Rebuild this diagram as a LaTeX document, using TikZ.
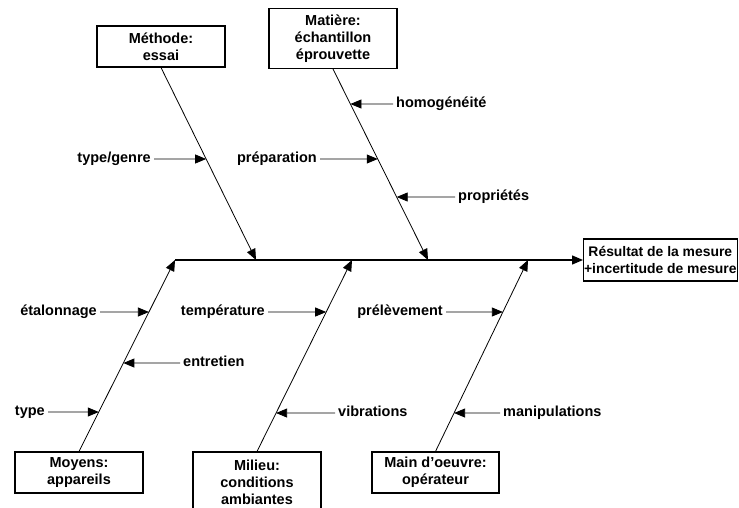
\documentclass[tikz,border=0pt]{standalone}
\usepackage{fontspec}
\setmainfont{Liberation Sans}
\usepackage{tikz}
\usetikzlibrary{arrows.meta,calc}

\begin{document}
\begin{tikzpicture}[
  x=1pt, y=-1pt,
  every node/.style={font=\fontsize{14.5}{17}\selectfont\bfseries},
  box/.style={draw, line width=1.1pt, minimum width=128pt, align=center, inner sep=0pt},
  lbl/.style={inner xsep=3pt, inner ysep=0pt, text height=10pt, text depth=3pt},
  arr/.style={-{Triangle[length=11pt, width=9pt]}, line width=0.8pt},
]
  \useasboundingbox (0,0) rectangle (739,508);
  \clip (0,0) rectangle (739,508);

  % Causes
  \node[box, minimum height=41pt] (methode) at (161,46.5) {Méthode:\\essai};
  \node[box, minimum height=60pt] (matiere) at (333,38.5) {Matière:\\échantillon\\éprouvette};
  \node[box, minimum height=41pt] (moyens) at (79,472.5) {Moyens:\\appareils};
  \node[box, minimum height=60pt] (milieu) at (257,482) {Milieu:\\conditions\\ambiantes};
  \node[box, minimum height=41pt, minimum width=127pt] (main) at (435.5,472.5) {Main d’oeuvre:\\opérateur};

  % Effect
  \node[box, minimum height=42pt, anchor=west, inner xsep=0.5pt,
        font=\fontsize{13.9}{17}\selectfont\bfseries] (res) at (583,260) {Résultat de la mesure\\+incertitude de mesure};

  % Spine
  \coordinate (s0) at (175,260);
  \coordinate (s1) at (256,260);
  \coordinate (s2) at (352,260);
  \coordinate (s3) at (428,260);
  \coordinate (s4) at (528,260);
  \draw[arr, line width=1.4pt] (s0) -- (res.west);

  % Bones
  \draw[arr] (methode.south) -- (s1);
  \draw[arr] (matiere.south) -- (s3);
  \draw[arr] (moyens.north) -- (s0);
  \draw[arr] (milieu.north) -- (s2);
  \draw[arr] (main.north) -- (s4);

  % Sub-causes (top)
  \node[lbl, anchor=east] (genre) at (154,159) {type/genre};
  \draw[arr] (genre) -- (intersection of methode.south--s1 and genre.west--genre.east);
  \node[lbl, anchor=east] (prep) at (320,159) {préparation};
  \draw[arr] (prep) -- (intersection of matiere.south--s3 and prep.west--prep.east);
  \node[lbl, anchor=west] (homog) at (393,104) {homogénéité};
  \draw[arr] (homog) -- (intersection of matiere.south--s3 and homog.west--homog.east);
  \node[lbl, anchor=west] (propr) at (455,197) {propriétés};
  \draw[arr] (propr) -- (intersection of matiere.south--s3 and propr.west--propr.east);

  % Sub-causes (bottom)
  \node[lbl, anchor=east] (etal) at (100,312) {étalonnage};
  \draw[arr] (etal) -- (intersection of moyens.north--s0 and etal.west--etal.east);
  \node[lbl, anchor=west] (entr) at (180,363) {entretien};
  \draw[arr] (entr) -- (intersection of moyens.north--s0 and entr.west--entr.east);
  \node[lbl, anchor=east] (type) at (48,412) {type};
  \draw[arr] (type) -- (intersection of moyens.north--s0 and type.west--type.east);
  \node[lbl, anchor=east] (temp) at (268,312) {température};
  \draw[arr] (temp) -- (intersection of milieu.north--s2 and temp.west--temp.east);
  \node[lbl, anchor=west] (vibr) at (335,413) {vibrations};
  \draw[arr] (vibr) -- (intersection of milieu.north--s2 and vibr.west--vibr.east);
  \node[lbl, anchor=east] (prel) at (446,312) {prélèvement};
  \draw[arr] (prel) -- (intersection of main.north--s4 and prel.west--prel.east);
  \node[lbl, anchor=west] (manip) at (500,413) {manipulations};
  \draw[arr] (manip) -- (intersection of main.north--s4 and manip.west--manip.east);
\end{tikzpicture}
\end{document}
